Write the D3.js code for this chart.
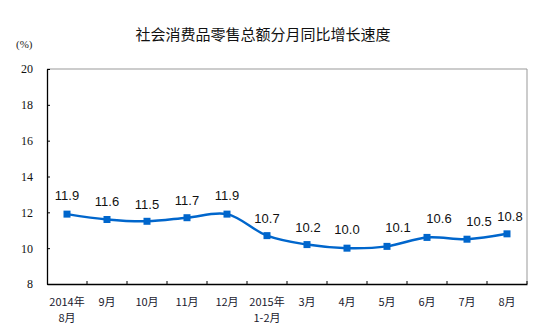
<!DOCTYPE html>
<html><head><meta charset="utf-8">
<script src="https://cdn.jsdelivr.net/npm/d3@7/dist/d3.min.js"></script>
<style>body{margin:0;background:#fff}svg{display:block}</style>
</head><body><svg id="c" width="549" height="335"></svg>
<script>
const categories = ["2014年|8月","9月","10月","11月","12月","2015年|1-2月","3月","4月","5月","6月","7月","8月"];
const values = [11.9, 11.6, 11.5, 11.7, 11.9, 10.7, 10.2, 10.0, 10.1, 10.6, 10.5, 10.8];
const yTicks = [8, 10, 12, 14, 16, 18, 20];
const title = "社会消费品零售总额分月同比增长速度";
const unit = "(%)";

const labelDx = [0,0,0,0,0,0,1,0,11,12,12,3];
const labelDy = [-14,-14,-12,-13,-14,-13,-13,-14,-14,-14,-13,-13];

const svg = d3.select("#c");
const L = 47, R = 527, T = 69, B = 284;
const x = d3.scaleBand().domain(categories).range([L, R]);
const y = d3.scaleLinear().domain([8, 20]).range([B, T]);
const color = "#0066CC";

svg.append("text").attr("x", 263).attr("y", 40).attr("text-anchor", "middle")
  .attr("font-family", "'Noto Sans CJK SC', sans-serif").attr("font-size", 15).attr("fill", "#111").text(title);
svg.append("text").attr("x", 16).attr("y", 48)
  .attr("font-family", "'Liberation Serif', serif").attr("font-size", 11).attr("fill", "#222").text(unit);

// frame top/right gray
svg.append("path").attr("d", `M${L},${T}H${R}V${B}`).attr("fill", "none").attr("stroke", "#999").attr("stroke-width", 1);

// y axis
const ya = svg.append("g").attr("transform", `translate(${L},0)`)
  .call(d3.axisLeft(y).tickValues(yTicks).tickSizeInner(-3).tickSizeOuter(0).tickPadding(14));
ya.select(".domain").attr("stroke", "#000").attr("stroke-width", 1.3);
ya.selectAll(".tick line").attr("stroke", "#000");
ya.selectAll(".tick text").attr("font-family", "'Liberation Serif', serif").attr("font-size", 12).attr("fill", "#111");

// x axis
const xa = svg.append("g").attr("transform", `translate(0,${B})`)
  .call(d3.axisBottom(x).tickValues([]).tickSizeOuter(0));
xa.select(".domain").attr("stroke", "#000").attr("stroke-width", 1.3);
const tickPos = categories.map((c) => x(c) + x.bandwidth());
svg.append("g").selectAll("line").data(tickPos).join("line")
  .attr("x1", d => d).attr("x2", d => d).attr("y1", B).attr("y2", B - 3)
  .attr("stroke", "#000");
const xl = svg.append("g").selectAll("text").data(categories).join("text")
  .attr("x", d => x(d) + x.bandwidth() / 2).attr("text-anchor", "middle")
  .attr("font-family", "'Noto Sans CJK SC', sans-serif").attr("font-size", 11).attr("fill", "#1a1a2e");
xl.each(function(d) {
  const parts = d.split("|");
  const t = d3.select(this);
  parts.forEach((p, i) => {
    t.append("tspan").attr("x", x(d) + x.bandwidth() / 2).attr("y", 306 + i * 16).text(p);
  });
});

// line
const pts = values.map((v, i) => [x(categories[i]) + x.bandwidth() / 2, y(v)]);
svg.append("path").attr("d", d3.line().curve(d3.curveCatmullRom.alpha(0.5))(pts))
  .attr("fill", "none").attr("stroke", color).attr("stroke-width", 2.5);
svg.append("g").selectAll("rect").data(pts).join("rect")
  .attr("x", d => d[0] - 3.5).attr("y", d => d[1] - 3.5).attr("width", 7).attr("height", 7).attr("fill", color);

// labels
svg.append("g").selectAll("text").data(values).join("text")
  .attr("x", (d, i) => pts[i][0] + labelDx[i]).attr("y", (d, i) => pts[i][1] + labelDy[i])
  .attr("text-anchor", "middle").attr("font-family", "'Liberation Sans', Arial, sans-serif")
  .attr("font-size", 13).attr("fill", "#111").text(d => d.toFixed(1));
</script></body></html>
